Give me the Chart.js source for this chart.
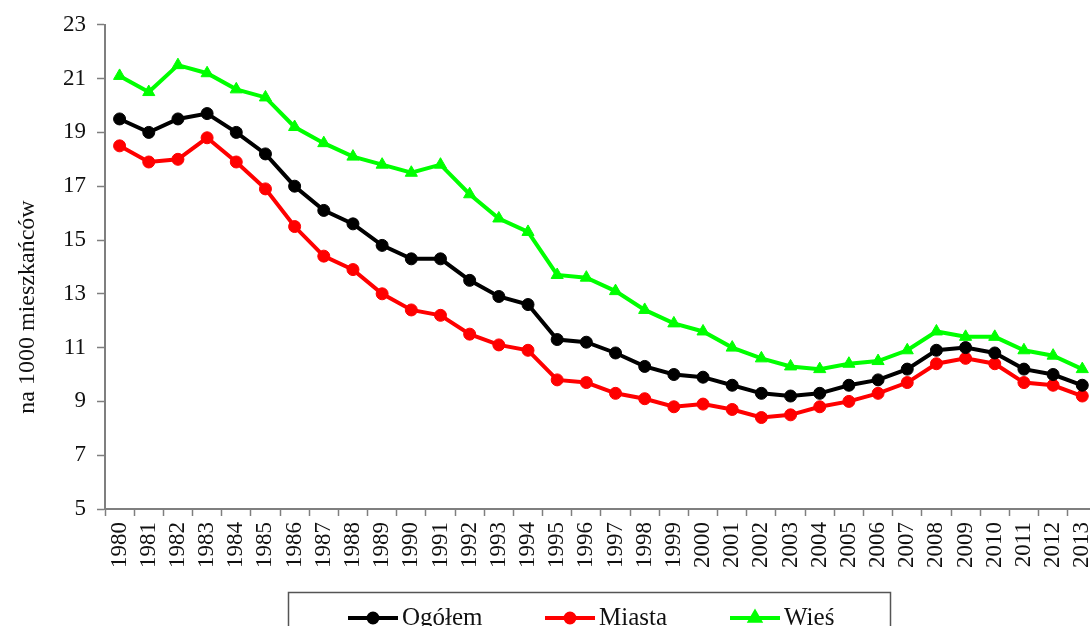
<!DOCTYPE html>
<html>
<head>
<meta charset="utf-8">
<script src="https://cdn.jsdelivr.net/npm/chart.js@4.4.1/dist/chart.umd.min.js"></script>
<style>
  html, body { margin: 0; padding: 0; background: #fff; overflow: hidden; }
  #wrap { position: relative; width: 1116px; height: 626px; }
</style>
</head>
<body>
<div id="wrap"><canvas id="chart"></canvas></div>
<script>
const years = ['1980','1981','1982','1983','1984','1985','1986','1987','1988','1989',
  '1990','1991','1992','1993','1994','1995','1996','1997','1998','1999',
  '2000','2001','2002','2003','2004','2005','2006','2007','2008','2009',
  '2010','2011','2012','2013'];

// liczba urodzeń na 1000 mieszkańców
const ogolem = [19.5, 19.0, 19.5, 19.7, 19.0, 18.2, 17.0, 16.1, 15.6, 14.8,
  14.3, 14.3, 13.5, 12.9, 12.6, 11.3, 11.2, 10.8, 10.3, 10.0,
  9.9, 9.6, 9.3, 9.2, 9.3, 9.6, 9.8, 10.2, 10.9, 11.0,
  10.8, 10.2, 10.0, 9.6];
const miasta = [18.5, 17.9, 18.0, 18.8, 17.9, 16.9, 15.5, 14.4, 13.9, 13.0,
  12.4, 12.2, 11.5, 11.1, 10.9, 9.8, 9.7, 9.3, 9.1, 8.8,
  8.9, 8.7, 8.4, 8.5, 8.8, 9.0, 9.3, 9.7, 10.4, 10.6,
  10.4, 9.7, 9.6, 9.2];
const wies = [21.1, 20.5, 21.5, 21.2, 20.6, 20.3, 19.2, 18.6, 18.1, 17.8,
  17.5, 17.8, 16.7, 15.8, 15.3, 13.7, 13.6, 13.1, 12.4, 11.9,
  11.6, 11.0, 10.6, 10.3, 10.2, 10.4, 10.5, 10.9, 11.6, 11.4,
  11.4, 10.9, 10.7, 10.2];

const yTitle = 'na 1000 mieszkańców';
const serif = '"Liberation Serif", "Times New Roman", serif';
const axisGray = '#7f7f7f';

// legenda w ramce pod osią X oraz tytuł osi Y
const extras = {
  id: 'extras',
  afterDraw(chart) {
    const ctx = chart.ctx;
    ctx.save();

    ctx.fillStyle = '#111';
    ctx.font = '24px ' + serif;
    ctx.textAlign = 'center';
    ctx.textBaseline = 'middle';
    ctx.translate(28, 307);
    ctx.rotate(-Math.PI / 2);
    ctx.fillText(yTitle, 0, 0);
    ctx.setTransform(1, 0, 0, 1, 0, 0);

    ctx.strokeStyle = '#555';
    ctx.lineWidth = 1.5;
    ctx.strokeRect(288.5, 592.5, 602, 60);

    const items = [
      { ds: chart.data.datasets[1], x: 348 },
      { ds: chart.data.datasets[2], x: 545 },
      { ds: chart.data.datasets[0], x: 730 }
    ];
    const y = 618;
    items.forEach(it => {
      const ds = it.ds;
      ctx.strokeStyle = ds.borderColor;
      ctx.lineWidth = 4;
      ctx.beginPath();
      ctx.moveTo(it.x, y);
      ctx.lineTo(it.x + 50, y);
      ctx.stroke();
      Chart.helpers.drawPoint(ctx, {
        pointStyle: ds.pointStyle, radius: ds.pointRadius - 1.5, borderWidth: 1
      }, it.x + 25, y);
      ctx.fillStyle = ds.borderColor;
      ctx.fill();
      ctx.fillStyle = '#111';
      ctx.font = '25px ' + serif;
      ctx.textAlign = 'left';
      ctx.textBaseline = 'middle';
      ctx.fillText(ds.label, it.x + 54, y);
    });
    ctx.restore();
  }
};

function series(label, data, color, style, r) {
  return {
    label: label,
    data: data,
    borderColor: color,
    backgroundColor: color,
    pointBackgroundColor: color,
    pointBorderColor: color,
    borderWidth: 4,
    pointStyle: style,
    pointRadius: r,
    pointBorderWidth: 1,
    tension: 0
  };
}

new Chart(document.getElementById('chart'), {
  type: 'line',
  data: {
    labels: years,
    datasets: [
      series('Wieś', wies, 'rgb(0,255,0)', 'triangle', 7),
      series('Ogółem', ogolem, 'rgb(0,0,0)', 'circle', 6),
      series('Miasta', miasta, 'rgb(255,0,0)', 'circle', 6)
    ]
  },
  options: {
    responsive: true,
    maintainAspectRatio: false,
    animation: false,
    layout: { padding: { top: 22, left: 0, right: 0, bottom: 0 } },
    plugins: {
      legend: { display: false },
      tooltip: { enabled: false }
    },
    scales: {
      x: {
        type: 'category',
        offset: true,
        afterFit(scale) { scale.height = 117; },
        grid: {
          offset: true,
          drawOnChartArea: false,
          tickLength: 7,
          tickWidth: 1.5,
          tickColor: axisGray
        },
        border: { display: true, color: axisGray, width: 2 },
        ticks: {
          autoSkip: false,
          minRotation: 90,
          maxRotation: 90,
          padding: 6,
          color: '#111',
          font: { family: serif, size: 23 }
        }
      },
      y: {
        min: 5,
        max: 23,
        afterFit(scale) { scale.width = 105; },
        grid: {
          drawOnChartArea: false,
          tickLength: 8,
          tickWidth: 1.5,
          tickColor: axisGray
        },
        border: { display: true, color: axisGray, width: 2 },
        ticks: {
          stepSize: 2,
          padding: 11,
          color: '#111',
          font: { family: serif, size: 23 }
        }
      }
    }
  },
  plugins: [extras]
});
</script>
</body>
</html>
